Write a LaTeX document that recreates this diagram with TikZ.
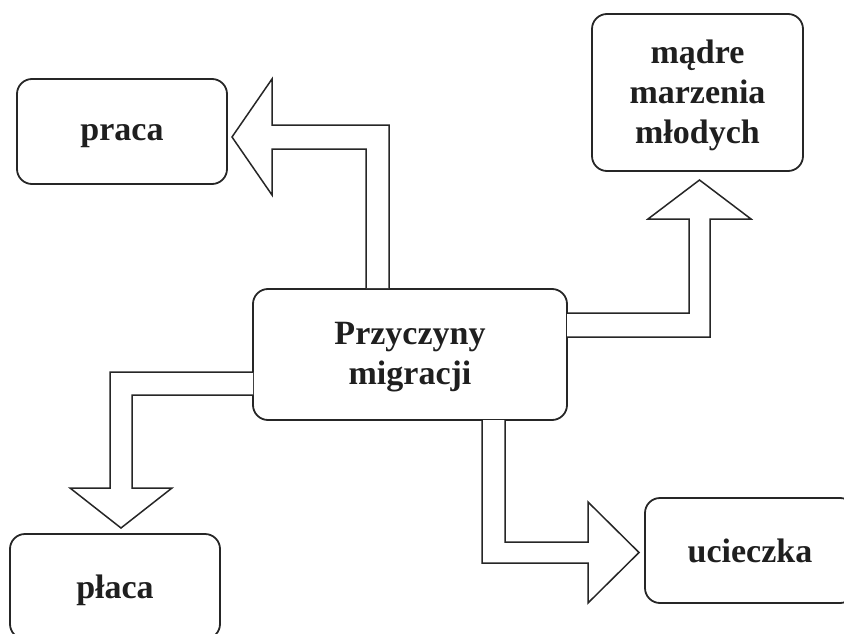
\documentclass[tikz,border=0pt]{standalone}
\usepackage{fontspec}
\setmainfont{Liberation Serif}
\begin{document}
\begin{tikzpicture}[x=1pt,y=-1pt,
  box/.style={draw=black!85,line width=1.8pt,rounded corners=15pt,inner sep=0pt,
    align=center,font=\bfseries\fontsize{34}{40}\selectfont,text=black!88},
  boxlabel/.style={inner sep=0pt,align=center,font=\bfseries\fontsize{34}{40}\selectfont,text=black!88},
  blockarrow/.style={draw=black!85,line width=1.5pt,line join=miter,fill=white}]
\useasboundingbox (0,0) rectangle (844,634);
\clip (0,0) rectangle (844,634);
% boxes
\node[box,minimum width=314pt,minimum height=131pt] (center) at (410,354.5) {};
\node[boxlabel] (centerlabel) at ([yshift=-2.5pt]center.center) {Przyczyny\\migracji};
\node[box,minimum width=210pt,minimum height=105pt] (praca) at (122,131.5) {};
\node[boxlabel] (pracalabel) at ([yshift=-5pt]praca.center) {praca};
\node[box,minimum width=211pt,minimum height=157pt] (madre) at (697.5,92.5) {};
\node[boxlabel] (madrelabel) at ([yshift=-3pt]madre.center) {mądre\\marzenia\\młodych};
\node[box,minimum width=210pt,minimum height=105pt] (placa) at (115,586.5) {};
\node[boxlabel] (placalabel) at ([yshift=-4pt]placa.center) {płaca};
\node[box,minimum width=210pt,minimum height=105pt] (ucieczka) at (750,550.5) {ucieczka};
% block arrows
\draw[blockarrow] (366,288) -- (366,149) -- (272,149) -- (272,195) -- (232,137)
  -- (272,79) -- (272,125) -- (389,125) -- (389,288);
\draw[blockarrow] (567,313) -- (689,313) -- (689,219) -- (648,219) -- (699.5,180)
  -- (751,219) -- (710,219) -- (710,337) -- (567,337);
\draw[blockarrow] (253,372) -- (110,372) -- (110,488) -- (70,488) -- (121,528)
  -- (172,488) -- (132,488) -- (132,395) -- (253,395);
\draw[blockarrow] (482,420) -- (482,563) -- (588,563) -- (588,603) -- (639,552.5)
  -- (588,502) -- (588,542) -- (505,542) -- (505,420);
\end{tikzpicture}
\end{document}
